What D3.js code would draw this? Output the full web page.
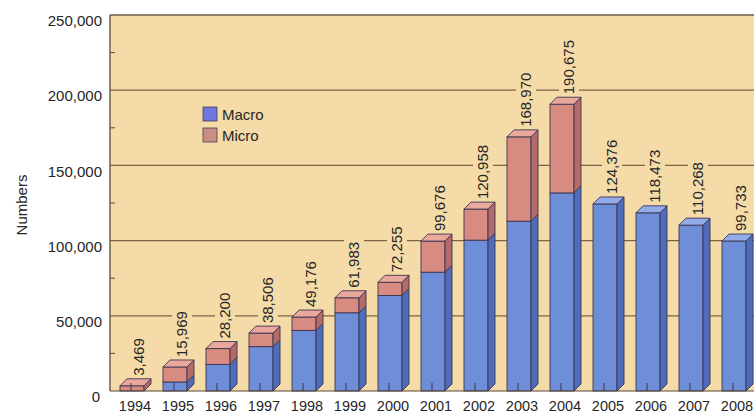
<!DOCTYPE html>
<html>
<head>
<meta charset="utf-8">
<script src="https://cdn.jsdelivr.net/npm/d3@7"></script>
<style>
  html, body { margin: 0; padding: 0; background: #fff; }
  text { font-family: "Liberation Sans", Arial, sans-serif; fill: #262626; }
</style>
</head>
<body>
<div id="chart"></div>
<script>
const years = ["1994", "1995", "1996", "1997", "1998", "1999", "2000", "2001",
  "2002", "2003", "2004", "2005", "2006", "2007", "2008"];
const macro = [0, 6000, 17700, 29500, 40300, 52000, 63500, 79000,
  100300, 112900, 131700, 124376, 118473, 110268, 99733];
const micro = [3469, 9969, 10500, 9006, 8876, 9983, 8755, 20676,
  20658, 56070, 58975, 0, 0, 0, 0];
const totals = [3469, 15969, 28200, 38506, 49176, 61983, 72255, 99676,
  120958, 168970, 190675, 124376, 118473, 110268, 99733];
const yTicks = [0, 50000, 100000, 150000, 200000, 250000];
const seriesNames = ["Macro", "Micro"];

document.addEventListener("DOMContentLoaded", function () {
  const width = 754;
  const height = 418;
  const left = 110, top = 15, bottom = 391;
  const depth = 7;
  const bg = "#f5dba8";

  const colors = {
    Macro: { front: "#6e8ed8", side: "#4e6cb8", top: "#93abe8" },
    Micro: { front: "#d88b80", side: "#b46a66", top: "#eaa89c" }
  };

  const svg = d3.select("#chart")
      .append("svg")
      .attr("width", width)
      .attr("height", height);

  const x = d3.scaleBand().domain(years).range([113, 113 + years.length * 43]);
  const y = d3.scaleLinear().domain([0, 250000]).range([bottom, top]);

  // plot background
  svg.append("rect")
      .attr("x", left).attr("y", top)
      .attr("width", width - left).attr("height", bottom - top)
      .attr("fill", bg);

  // grid lines
  svg.selectAll("line.grid")
      .data(yTicks.filter((d) => d > 0))
      .enter()
      .append("line")
      .attr("class", "grid")
      .attr("x1", left).attr("x2", width)
      .attr("y1", (d) => y(d)).attr("y2", (d) => y(d))
      .attr("stroke", (d) => (d === 250000 ? "#6d5a45" : "#7d6445"))
      .attr("stroke-width", 1.3);

  // label boxes hide grid lines behind the value labels
  const labelLayer = svg.append("g");

  // bars
  const stack = years.map((yr, i) => {
    const segs = [
      { name: "Macro", y0: 0, y1: macro[i] },
      { name: "Micro", y0: macro[i], y1: macro[i] + micro[i] }
    ].filter((s) => s.y1 > s.y0);
    return { year: yr, segs: segs, total: totals[i] };
  });

  const bar = svg.selectAll("g.bar")
      .data(stack)
      .enter()
      .append("g")
      .attr("class", "bar");

  bar.each(function (d) {
    const g = d3.select(this);
    const x0 = x(d.year) + 7;
    const x1 = x0 + 24;
    d.segs.forEach((s, k) => {
      const yt = y(s.y1), yb = y(s.y0);
      const c = colors[s.name];
      g.append("rect")
          .attr("x", x0).attr("y", yt)
          .attr("width", x1 - x0).attr("height", yb - yt)
          .attr("fill", c.front)
          .attr("stroke", "#3b3552").attr("stroke-width", 0.9);
      g.append("path")
          .attr("d", `M${x1},${yt}L${x1 + depth},${yt - depth}L${x1 + depth},${yb - depth}L${x1},${yb}Z`)
          .attr("fill", c.side)
          .attr("stroke", "#3b3552").attr("stroke-width", 0.9);
      if (k === d.segs.length - 1) {
        g.append("path")
            .attr("d", `M${x0},${yt}L${x0 + depth},${yt - depth}L${x1 + depth},${yt - depth}L${x1},${yt}Z`)
            .attr("fill", c.top)
            .attr("stroke", "#3b3552").attr("stroke-width", 0.9);
      }
    });
    // small x tick inside bar bottom
    g.append("line")
        .attr("x1", x0 + 11).attr("x2", x0 + 11)
        .attr("y1", bottom).attr("y2", bottom - 8)
        .attr("stroke", "#3b3552").attr("stroke-width", 1);
  });

  // value labels
  stack.forEach((d) => {
    const cx = x(d.year) + 22 + 4;
    const cy = y(d.total) - depth - 3;
    const lg = labelLayer.append("g")
        .attr("transform", `translate(${cx},${cy}) rotate(-90)`);
    const t = lg.append("text")
        .attr("x", 0).attr("y", 0)
        .attr("dy", "0.36em")
        .style("font-size", "15px")
        .text(d3.format(",")(d.total));
    const len = t.node().getComputedTextLength();
    lg.insert("rect", "text")
        .attr("x", -2).attr("y", -10)
        .attr("width", len + 6).attr("height", 20)
        .attr("fill", bg);
  });

  // left axis line and minor ticks
  svg.append("line")
      .attr("x1", left).attr("x2", left)
      .attr("y1", top).attr("y2", bottom)
      .attr("stroke", "#5a4a3a").attr("stroke-width", 1.3);
  svg.selectAll("line.minor")
      .data(d3.range(25000, 250000, 50000))
      .enter()
      .append("line")
      .attr("x1", left).attr("x2", left + 5)
      .attr("y1", (d) => y(d)).attr("y2", (d) => y(d))
      .attr("stroke", "#5a4a3a").attr("stroke-width", 1);

  // baseline
  svg.append("line")
      .attr("x1", left).attr("x2", width)
      .attr("y1", bottom).attr("y2", bottom)
      .attr("stroke", "#5a4a3a").attr("stroke-width", 1);

  // y tick labels
  svg.selectAll("text.ytick")
      .data(yTicks)
      .enter()
      .append("text")
      .attr("class", "ytick")
      .attr("x", (d) => (d === 0 ? 100 : 102))
      .attr("y", (d) => y(d) + 6)
      .attr("dy", "0.35em")
      .attr("text-anchor", "end")
      .style("font-size", "15px")
      .text((d) => d3.format(",")(d));

  // x labels
  svg.selectAll("text.xtick")
      .data(years)
      .enter()
      .append("text")
      .attr("class", "xtick")
      .attr("x", (d) => x(d) + 22)
      .attr("y", 411)
      .attr("text-anchor", "middle")
      .style("font-size", "14.5px")
      .text((d) => d);

  // y axis title
  svg.append("text")
      .attr("transform", "translate(22,205) rotate(-90)")
      .attr("text-anchor", "middle")
      .attr("dy", "0.35em")
      .style("font-size", "15px")
      .text("Numbers");

  // legend
  const legend = svg.selectAll("g.legend")
      .data(seriesNames)
      .enter()
      .append("g")
      .attr("class", "legend")
      .attr("transform", (d, i) => `translate(203,${107 + i * 21})`);
  legend.append("rect")
      .attr("width", 14).attr("height", 14)
      .attr("fill", (d) => (d === "Macro" ? "#6f78dd" : "#c98e84"))
      .attr("stroke", "#4a4050").attr("stroke-width", 0.8);
  legend.append("text")
      .attr("x", 19).attr("y", 13)
      .style("font-size", "15px")
      .text((d) => d);
});
</script>
</body>
</html>
